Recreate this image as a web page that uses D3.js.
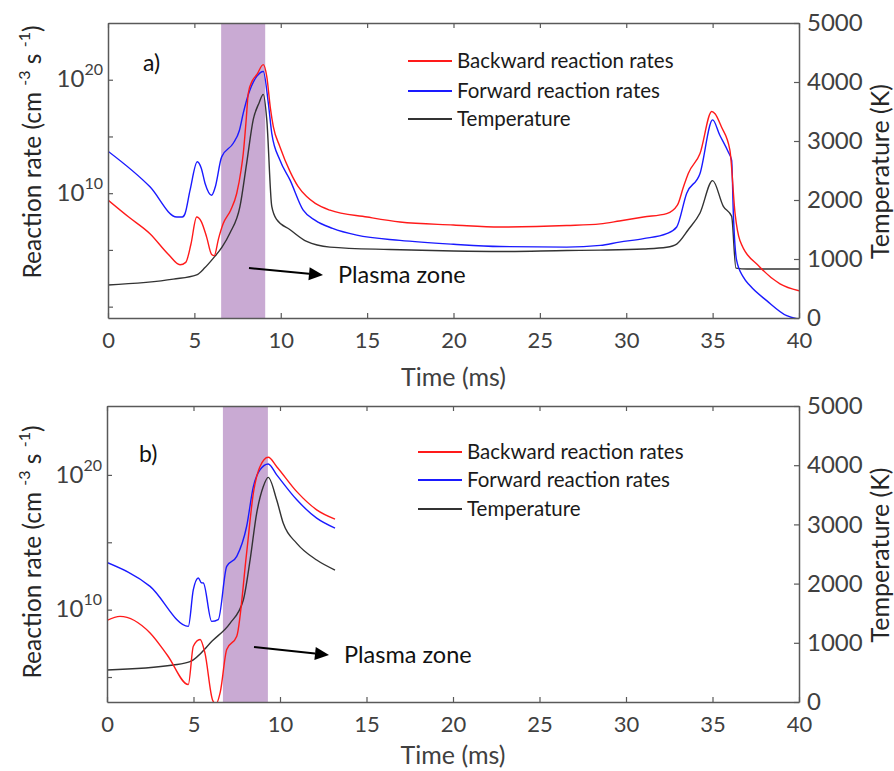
<!DOCTYPE html>
<html><head><meta charset="utf-8">
<script src="https://cdn.jsdelivr.net/npm/d3@7"></script>
<style>body{margin:0;background:#fff}svg{display:block}text{font-family:Lato,"Open Sans",sans-serif}</style>
</head><body><svg id="c" width="894" height="771"></svg>
<script>
// ---------- data ----------
const timeTicks = [0,5,10,15,20,25,30,35,40];
const tempTicks = [0,1000,2000,3000,4000,5000];
const rateTicks = [1e0,1e5,1e10,1e15,1e20];
const rateLabelled = [1e10,1e20];
const legendLabels = ["Backward reaction rates","Forward reaction rates","Temperature"];
const panelLabels = ["a)","b)"];
const plasmaLabel = "Plasma zone";
const plasmaA = [6.55, 9.1];
const plasmaB = [6.7, 9.3];
const rateDomainA = [1e-1, 1e25];
const rateDomainB = [1.4e3, 1.3e25];

// panel a) backward rate (log10 of cm^-3 s^-1)
const aBackT = [0,1.2,2.43,3.5,4.17,4.5,4.8,5.13,5.4,5.71,6.0,6.15,6.4,6.67,7.1,7.45,7.7,7.83,8.0,8.12,8.35,8.61,8.99,9.19,9.4,9.57,9.95,10.54,11.0,11.5,12.0,12.85,15,16.9,20,22.7,26.55,28.5,29.6,31,32.34,32.96,33.3,33.59,34.27,34.95,35.14,35.5,36.0,36.3,36.58,37.74,38.9,40];
const aBackLog = [9.4,7.9,6.43,4.6,3.69,3.9,5.5,7.9,7.5,6.13,4.6,4.5,6.0,7.32,8.5,9.97,12,13.5,16.5,18.8,19.9,20.44,21.33,20.3,17.5,15.87,14.1,11.9,10.6,9.7,9.1,8.5,7.9,7.46,7.2,7.02,7.15,7.3,7.55,7.9,8.2,8.94,10.5,11.74,13.5,17.2,17.0,15.87,13.8,8.2,5.84,3.48,2.01,1.4];
// panel a) forward rate
const aFwdT = [0,2.43,3.98,4.3,4.46,4.75,5.17,5.4,5.62,6.0,6.2,6.58,7.25,7.6,7.83,8.12,8.61,8.99,9.28,9.48,9.95,10.54,11.3,12.0,13.0,14.4,16.9,20,22.7,26.55,28.5,29.6,31,32.34,32.92,33.5,34.27,35.0,35.41,35.9,36.1,36.2,36.39,36.78,37.16,38.13,39.29,40];
const aFwdLog = [13.7,10.56,7.9,7.9,8.2,10.27,12.77,12.2,10.86,9.82,10.5,13.2,14.4,15.5,17.05,18.67,20.29,20.73,17.94,15.28,12.92,11.15,8.5,7.6,6.9,6.3,5.84,5.5,5.3,5.25,5.4,5.69,6.0,6.43,7.02,10.0,11.74,16.46,15.13,13.65,12.92,8.2,4.07,2.6,1.86,0.53,-0.8,-1.1];
// panel a) temperature (K)
const aTempT = [0,3.78,5.13,5.6,6.1,6.6,7.06,7.64,8.03,8.41,8.75,8.99,9.19,9.48,9.77,10.54,11.5,12.85,16.32,20,22.7,26.55,28.5,31,32.34,32.92,33.59,34.27,35.0,35.62,36.1,36.35,37,40];
const aTemp = [560,658,731,850,1015,1200,1440,1892,2630,3366,3650,3791,3366,1892,1666,1496,1297,1202,1160,1135,1127,1144,1150,1170,1200,1253,1496,1780,2329,1893,1723,845,830,830];

// panel b) backward rate
const bBackT = [0,0.75,2.49,3.5,4.7,4.99,5.38,5.66,6.1,6.3,6.55,6.92,7.5,8.07,8.46,8.84,9.32,9.81,10.97,12.12,13.18];
const bBackLog = [9.2,9.5,8.27,6.6,4.44,7.28,7.78,6.79,3.3,3.0,3.9,7.04,8.02,14.2,18.64,20.61,21.31,20.61,18.76,17.41,16.72];
// panel b) forward rate
const bFwdT = [0,2.49,4.7,4.99,5.28,5.45,5.57,6.05,6.43,6.92,7.5,8.07,8.46,8.84,9.32,9.81,10.97,12.12,13.18];
const bFwdLog = [13.5,11.73,8.76,11.48,12.35,12.0,11.98,9.13,9.26,13.21,13.95,16.17,19.13,20.37,20.81,20.0,18.15,16.79,16.05];
// panel b) temperature
const bTempT = [0,3.83,4.8,6.14,7.11,7.88,8.27,8.65,9.03,9.32,9.81,10.19,10.97,12.12,13.18];
const bTemp = [540,625,681,1047,1329,1723,2398,3187,3636,3795,3412,3018,2680,2398,2229];

// ---------- drawing ----------
const svg = d3.select("#c");
const colBack = "#ff1a1a", colFwd = "#1a1aff", colTemp = "#333333";
const axisCol = "#595959", tickTextCol = "#404040";

const panels = [
  {x0:108,x1:799,y0:23,y1:318,dom:rateDomainA,band:plasmaA,
   back:[aBackT,aBackLog],fwd:[aFwdT,aFwdLog],temp:[aTempT,aTemp],
   label:panelLabels[0],labelPos:[143,71],
   legX:408,legY:[61,91,119],
   arrow:[[249,268],[323,275]],plasmaPos:[338,283],
   ylabCenter:152,xtitleY:386},
  {x0:107,x1:799,y0:406,y1:702,dom:rateDomainB,band:plasmaB,
   back:[bBackT,bBackLog],fwd:[bFwdT,bFwdLog],temp:[bTempT,bTemp],
   label:panelLabels[1],labelPos:[139,462],
   legX:418,legY:[452,480,509],
   arrow:[[254,647],[329,655]],plasmaPos:[344,663],
   ylabCenter:552,xtitleY:764}
];

panels.forEach((p,i)=>{
  const x = d3.scaleLinear().domain([0,40]).range([p.x0,p.x1]);
  const yR = d3.scaleLog().domain(p.dom).range([p.y1,p.y0]);
  const yT = d3.scaleLinear().domain([0,5000]).range([p.y1,p.y0]);
  const g = svg.append("g");
  const cid = "clip"+i;
  svg.append("clipPath").attr("id",cid).append("rect")
    .attr("x",p.x0).attr("y",p.y0).attr("width",p.x1-p.x0).attr("height",p.y1-p.y0);

  // plasma band
  g.append("rect").attr("x",x(p.band[0])).attr("width",x(p.band[1])-x(p.band[0]))
    .attr("y",p.y0).attr("height",p.y1-p.y0).attr("fill","#c9aad3");

  const lines = g.append("g").attr("clip-path",`url(#${cid})`);
  const rateLine = d3.line().x(d=>x(d[0])).y(d=>yR(Math.pow(10,d[1]))).curve(d3.curveMonotoneX);
  const tempLine = d3.line().x(d=>x(d[0])).y(d=>yT(d[1])).curve(d3.curveMonotoneX);
  const zip = (a,b)=>a.map((v,k)=>[v,b[k]]);
  lines.append("path").attr("d",tempLine(zip(p.temp[0],p.temp[1]))).attr("fill","none").attr("stroke",colTemp).attr("stroke-width",1.4);
  lines.append("path").attr("d",rateLine(zip(p.fwd[0],p.fwd[1]))).attr("fill","none").attr("stroke",colFwd).attr("stroke-width",1.4);
  lines.append("path").attr("d",rateLine(zip(p.back[0],p.back[1]))).attr("fill","none").attr("stroke",colBack).attr("stroke-width",1.4);

  // axes
  const styleAxis = (sel,fs)=>{
    sel.selectAll("path.domain").attr("stroke",axisCol).attr("stroke-width",1.5);
    sel.selectAll(".tick line").attr("stroke",axisCol).attr("stroke-width",1.2);
    sel.selectAll(".tick text").attr("fill",tickTextCol).style("font-family","Lato").attr("font-size",fs);
  };
  const xb = g.append("g").attr("transform",`translate(0,${p.y1})`)
    .call(d3.axisBottom(x).tickValues(timeTicks).tickSize(-5).tickSizeOuter(0).tickPadding(14).tickFormat(d3.format("d")));
  styleAxis(xb,22);
  const xt = g.append("g").attr("transform",`translate(0,${p.y0})`)
    .call(d3.axisTop(x).tickValues(timeTicks).tickSize(-5).tickSizeOuter(0).tickFormat(""));
  styleAxis(xt,22);
  const yl = g.append("g").attr("transform",`translate(${p.x0},0)`)
    .call(d3.axisLeft(yR).tickValues(rateTicks.filter(v=>v>=p.dom[0]&&v<=p.dom[1])).tickSize(-5).tickSizeOuter(0).tickPadding(4).tickFormat(()=>""));
  styleAxis(yl,24);
  yl.selectAll(".tick text").each(function(d){
    if(!rateLabelled.includes(d)) return;
    const t = d3.select(this).attr("dy","0.3em").attr("x",-5).attr("text-anchor","end");
    t.append("tspan").text("10");
    t.append("tspan").attr("font-size",16).attr("dy","-0.75em").text(Math.round(Math.log10(d)));
  });
  const yr = g.append("g").attr("transform",`translate(${p.x1},0)`)
    .call(d3.axisRight(yT).tickValues(tempTicks).tickSize(-5).tickSizeOuter(0).tickPadding(8).tickFormat(d3.format("d")));
  styleAxis(yr,24);

  // axis titles
  g.append("text").attr("x",(p.x0+p.x1)/2).attr("y",p.xtitleY).attr("text-anchor","middle")
    .attr("font-size",25).attr("fill","#404040").text("Time (ms)");
  const yt = g.append("text").attr("transform",`translate(41,${p.ylabCenter}) rotate(-90)`)
    .attr("text-anchor","middle").attr("font-size",24.5).attr("fill","#262626");
  yt.append("tspan").text("Reaction rate (cm ");
  yt.append("tspan").attr("font-size",16).attr("dy",-11).text("-3");
  yt.append("tspan").attr("dy",11).text(" s ");
  yt.append("tspan").attr("font-size",16).attr("dy",-11).text("-1");
  yt.append("tspan").attr("dy",11).text(")");
  g.append("text").attr("transform",`translate(889,${(p.y0+p.y1)/2+1}) rotate(-90)`)
    .attr("text-anchor","middle").attr("font-size",25).attr("fill","#262626").text("Temperature (K)");

  // panel label
  g.append("text").attr("x",p.labelPos[0]).attr("y",p.labelPos[1]).attr("font-size",23).attr("fill","#111").text(p.label);

  // legend
  [colBack,colFwd,colTemp].forEach((c,k)=>{
    g.append("line").attr("x1",p.legX).attr("x2",p.legX+44).attr("y1",p.legY[k]).attr("y2",p.legY[k])
      .attr("stroke",c).attr("stroke-width",2);
    g.append("text").attr("x",p.legX+49).attr("y",p.legY[k]).attr("dy","0.35em")
      .attr("font-size",20.5).attr("fill","#1a1a1a").text(legendLabels[k]);
  });

  // plasma zone arrow + label
  const [a0,a1] = p.arrow;
  const ang = Math.atan2(a1[1]-a0[1],a1[0]-a0[0]);
  const hl = 14, hw = 6.5;
  const bx = a1[0]-hl*Math.cos(ang), by = a1[1]-hl*Math.sin(ang);
  g.append("line").attr("x1",a0[0]).attr("y1",a0[1]).attr("x2",bx).attr("y2",by).attr("stroke","#000").attr("stroke-width",2);
  g.append("path").attr("d",`M${a1[0]},${a1[1]}L${bx-hw*Math.sin(ang)},${by+hw*Math.cos(ang)}L${bx+hw*Math.sin(ang)},${by-hw*Math.cos(ang)}Z`).attr("fill","#000");
  g.append("text").attr("x",p.plasmaPos[0]).attr("y",p.plasmaPos[1]).attr("font-size",23.5).attr("fill","#111").text(plasmaLabel);
});
</script></body></html>
